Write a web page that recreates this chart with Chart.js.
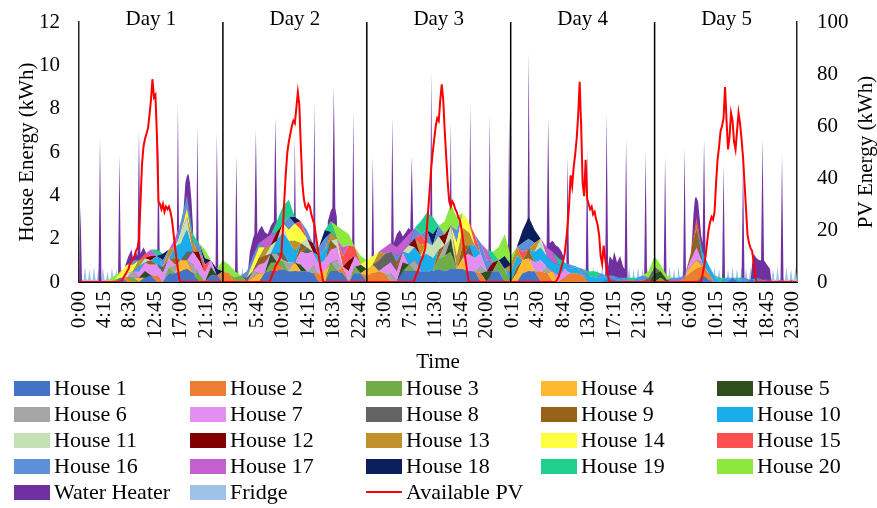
<!DOCTYPE html>
<html>
<head>
<meta charset="utf-8">
<script src="https://cdn.jsdelivr.net/npm/chart.js@4.4.0/dist/chart.umd.min.js"></script>
<style>
  html, body { margin: 0; padding: 0; background: #fff; }
  #wrap { position: relative; width: 877px; height: 508px; overflow: hidden;
          font-family: "Liberation Serif", "Times New Roman", serif; }
  #c { position: absolute; left: 0; top: 0; }
  #legend { position: absolute; left: 0; top: 0; width: 877px; height: 508px; }
  .item { position: absolute; height: 26px; display: flex; align-items: center;
          font-size: 22px; color: #000; white-space: nowrap; }
  .sw { width: 36px; height: 15px; margin-right: 4px; flex: none; }
  .ln { width: 36px; height: 2px; margin-right: 4px; flex: none; }
</style>
</head>
<body>
<div id="wrap">
  <canvas id="c" width="877" height="380"></canvas>
  <div id="legend"></div>
</div>
<script>
// ---- x axis: 15-minute steps over five days (480 steps), a label every 17 steps ----
const quarterTickLabels = ['0:00','4:15','8:30','12:45','17:00','21:15','1:30','5:45','10:00','14:15',
  '18:30','22:45','3:00','7:15','11:30','15:45','20:00','0:15','4:30','8:45','13:00','17:15','21:30',
  '1:45','6:00','10:15','14:30','18:45','23:00'];
const dayLabels = ['Day 1','Day 2','Day 3','Day 4','Day 5'];

// ---- hourly house demand (kWh), 24 values per day, one line per day ----
const house1 = [
  0,0,0,0,0,0,0,0.2,0,0,0,0.2,0.3,0,0,0.4,0.4,0.5,0.6,0.4,0,0,0.3,0.3,
  0,0,0,0,0,0,0,0.4,0.5,0.5,0.6,0.5,0.5,0.5,0.5,0.4,0,0,0.5,0.5,0.4,0,0.4,0.4,
  0,0,0,0,0,0,0.5,0.5,0.5,0.5,0.5,0.5,0.6,0.5,0.6,0.6,0.6,0.5,0.5,0,0,0.5,0.5,0,
  0,0,0.4,0.5,0.5,0,0,0,0,0,0,0,0,0,0,0,0.1,0.1,0,0,0,0,0,0,
  0,0,0,0,0,0,0,0,0.3,0.1,0,0,0,0.2,0,0,0.1,0,0,0.1,0,0,0,0.1];
const house2 = [
  0,0,0,0,0,0,0,0,0.2,0,0,0,0,0.3,0,0,0,0,0,0,0,0,0,0,
  0.5,0.4,0,0,0,0,0,0,0,0.4,0,0,0,0,0,0,0.4,0,0,0,0.3,0,0,0,
  0.3,0.4,0.5,0.4,0,0,0,0,0,0,0,0,0,0,0,0,0,0,0,0.4,0,0,0,0,
  0,0,0,0,0,0.5,0.4,0,0,0.2,0.4,0.4,0.3,0,0,0,0,0,0,0,0,0,0,0,
  0,0,0,0,0,0.2,0.4,0.6,0.4,0.3,0,0,0,0,0,0,0,0,0,0,0,0,0,0];
const house3 = [
  0,0,0,0,0,0,0.1,0,0,0.2,0,0,0,0,0,0.3,0,0,0,0,0.4,0,0,0,
  0,0,0.2,0.3,0,0,0,0,0.4,0,0.4,0,0,0,0,0,0,0,0.4,0,0,0,0.3,0,
  0,0,0,0,0,0,0,0.3,0,0,0,0,0.5,0.7,0.8,0,0,0,0,0,0,0,0.5,0.6,
  0,0,0,0,0,0,0,0,0,0,0,0,0,0,0,0,0,0,0,0,0,0,0,0,
  0,0.2,0,0,0,0,0,0,0,0,0,0,0,0,0,0,0,0,0,0,0,0,0,0];
const house4 = [
  0,0,0,0,0,0,0,0,0,0,0.2,0,0,0,0,0,0,0.5,0.4,0,0,0,0,0,
  0,0,0,0,0,0.2,0.4,0,0,0,0,0,0.4,0,0,0,0,0.5,0,0,0,0,0,0,
  0.3,0.4,0,0,0,0,0,0,0,0,0,0,0,0,0,0,0.5,0,0,0,0,0,0,0,
  0,0.4,0.6,0.6,0,0,0,0.5,0,0,0,0,0,0,0,0,0,0,0,0,0,0,0,0,
  0,0,0,0,0,0,0.3,0.4,0,0,0,0,0,0,0,0,0,0,0,0,0,0,0,0];
const house5 = [
  0,0,0,0,0,0,0,0,0,0,0,0.3,0,0,0,0,0,0,0,0,0,0,0.4,0,
  0,0,0,0,0,0,0,0,0.4,0,0,0,0,0.3,0,0,0,0,0,0,0,0,0,0.4,
  0,0,0,0,0,0,0.4,0,0,0,0,0,0,0,0.6,0,0,0,0,0,0.5,0,0,0,
  0,0,0,0,0,0,0,0,0,0,0,0,0,0,0,0,0,0,0,0,0,0,0,0,
  0.4,0.3,0.1,0,0,0,0,0,0,0,0,0,0,0,0,0,0,0,0,0,0,0,0,0];
const house6 = [
  0,0,0,0,0,0,0,0,0,0.3,0,0,0,0,0,0,0.4,0,0,0.4,0,0,0,0,
  0,0,0,0,0,0.3,0,0,0,0.4,0,0.4,0,0,0,0.4,0,0,0,0.5,0,0,0,0,
  0,0,0,0,0.4,0,0,0,0.5,0,0,0,0,0.5,0,0,0,0,0,0.4,0,0,0,0,
  0,0,0,0,0,0,0.3,0,0,0,0,0,0,0,0,0,0,0,0,0,0,0,0,0,
  0,0,0,0,0,0,0,0,0.2,0,0,0,0,0,0,0,0,0,0,0,0,0,0,0];
const house7 = [
  0,0,0,0,0,0,0,0,0,0,0.3,0.4,0.5,0.5,0.4,0.4,0,0,0,0.6,0.6,0.4,0.3,0,
  0,0,0,0,0,0,0.4,0.5,0,0,0,0,0,0.6,0.8,0.6,0.4,0.5,0.6,0.6,0,0.5,0.5,0,
  0,0,0,0.3,0.5,0.5,0.5,0,0,0,0,0,0,0,0,0,0,0.8,0.6,0.5,0,0,0,0,
  0,0,0,0,0.4,0.5,0,0,0.3,0.4,0,0,0,0,0,0,0,0,0,0,0,0,0,0,
  0,0,0,0,0,0,0.3,0.6,0,0,0,0,0,0,0,0,0,0,0,0,0,0,0,0];
const house8 = [
  0,0,0,0,0,0,0,0,0,0,0,0,0,0,0.3,0,0,0,0.4,0,0,0,0,0,
  0,0,0,0,0.2,0,0,0,0,0,0.4,0,0,0,0.3,0,0,0,0,0,0,0,0,0,
  0,0,0.5,0.6,0.5,0,0,0,0,0,0,0,0,0,0,0,0,0.4,0,0,0,0,0,0,
  0,0,0,0,0,0,0,0,0,0,0,0,0,0,0,0,0,0,0,0,0,0,0,0.2,
  0.3,0,0,0,0,0,0,0,0,0,0,0,0,0,0,0,0,0,0,0,0,0,0,0];
const house9 = [
  0,0,0,0,0,0,0,0,0,0,0,0,0.2,0,0,0,0.3,0,0,0,0,0,0,0,
  0,0,0,0,0,0,0.3,0.3,0,0,0,0,0,0.4,0,0,0,0,0.4,0,0,0,0,0,
  0,0,0,0,0,0.4,0,0,0,0,0,0,0.4,0,0,0,0.6,0,0,0,0,0,0,0,
  0,0.3,0,0.4,0,0,0,0,0,0,0,0,0,0,0,0,0,0,0,0,0,0,0,0,
  0,0,0,0,0,0,0.3,0.8,0,0,0,0,0,0,0,0,0,0,0,0,0,0,0,0];
const house10 = [
  0,0,0,0,0,0,0,0,0,0,0.2,0,0,0.4,0,0,0.5,0.8,1.0,0,0,0,0,0,
  0,0,0,0,0,0,0,0,0,0.6,0.9,1.0,0.5,0,0,0,0.4,0.5,0,0,0,0,0,0,
  0,0,0,0,0,0,0,0.5,0.6,0.7,0.8,0.6,0,0,0,0,0,0,0.6,0,0,0,0,0,
  0.4,0.5,0,0,0.5,0.6,0.5,0.4,0.5,0.3,0.2,0.3,0,0.3,0.2,0.2,0.2,0,0.2,0,0,0.2,0,0,
  0,0,0,0,0,0,0,0,0.5,0.4,0.2,0,0.1,0,0.1,0,0,0.2,0,0,0,0,0,0];
const house11 = [
  0,0,0,0,0,0,0,0,0.2,0,0,0.2,0,0,0,0,0,0.5,0.6,0,0,0,0,0,
  0,0,0,0,0,0,0,0,0.4,0,0.4,0,0,0,0.4,0,0,0,0,0.4,0,0,0,0,
  0,0,0,0,0,0,0,0.4,0,0,0.5,0.6,0.6,0,0.6,0,0,0,0,0,0,0,0,0,
  0,0,0,0,0,0.4,0,0,0,0,0,0,0,0,0,0,0,0,0,0,0,0,0,0,
  0,0,0,0,0,0,0,0,0,0,0,0,0,0,0,0,0,0,0,0,0,0,0,0];
const house12 = [
  0,0,0,0,0,0,0,0,0,0,0,0,0.2,0,0,0,0,0,0,0,0.4,0,0,0,
  0,0,0,0,0,0,0,0,0,0.4,0,0,0,0,0,0.4,0,0,0,0,0,0.5,0,0,
  0,0,0,0,0,0,0,0,0.4,0,0,0,0,0.5,0,0,0,0,0,0,0,0.4,0,0,
  0,0,0,0,0,0,0,0,0,0,0,0,0,0,0,0,0,0,0,0,0,0,0,0,
  0,0,0,0,0,0,0,0,0,0,0,0,0,0,0,0,0,0,0,0,0,0,0,0];
const house13 = [
  0,0,0,0,0,0,0,0,0,0,0.3,0,0,0,0,0.4,0,0,0,0.4,0,0,0,0,
  0,0,0,0,0,0,0,0.4,0,0,0,0,0.5,0,0,0,0,0,0.4,0,0,0,0,0,
  0,0,0.4,0,0,0,0,0,0,0.5,0,0,0,0,0,0.6,0.8,0.6,0,0,0,0,0,0,
  0.4,0.4,0,0,0.4,0,0,0,0,0,0,0,0,0,0,0,0,0,0,0,0,0,0,0,
  0,0,0,0,0,0,0,0.3,0,0,0,0,0,0,0,0,0,0,0,0,0,0,0,0];
const house14 = [
  0,0,0,0,0,0,0,0.3,0.4,0.3,0,0,0,0,0,0,0,0,0.4,0,0,0,0,0,
  0,0,0,0,0,0.4,0.5,0,0,0,0,0.5,0.8,0.6,0,0,0,0,0,0,0,0,0,0,
  0.4,0.4,0,0,0,0,0,0,0,0,0,0,0,0,0,0.6,0.7,0.5,0,0,0,0,0,0,
  0,0,0,0,0,0,0,0,0,0,0,0,0,0,0,0,0,0,0,0,0,0,0,0,
  0,0,0,0,0,0,0,0,0,0,0,0,0,0,0,0,0,0,0,0,0,0,0,0];
const house15 = [
  0,0,0,0,0,0,0,0,0,0,0,0.2,0,0,0,0,0,0,0,0,0,0.4,0,0,
  0,0,0,0,0,0,0,0,0,0,0,0,0,0.4,0,0,0,0,0,0,0.5,0.7,0.4,0,
  0,0,0,0,0,0,0,0,0,0.5,0,0,0,0,0,0,0,0,0.5,0,0,0,0,0,
  0,0,0.4,0,0,0,0,0,0,0,0,0,0,0,0,0,0,0,0,0,0,0,0,0,
  0,0,0,0,0,0,0,0.3,0,0,0,0,0,0,0,0,0,0,0,0,0,0,0,0];
const house16 = [
  0,0,0,0,0,0,0,0,0,0.2,0,0,0,0,0.3,0,0,0.5,0.6,0,0.4,0,0,0,
  0,0,0,0,0.3,0.3,0.2,0,0,0,0,0.6,0,0,0.4,0,0.4,0.5,0,0,0,0,0,0,
  0,0,0,0,0,0.3,0,0,0.5,0,0.6,0,0.5,0,0,0.6,0,0,0,0.5,0.5,0,0,0,
  0,0,0.4,0.5,0,0,0,0,0,0,0.2,0,0.3,0,0,0.2,0,0.2,0,0.2,0,0,0.3,0,
  0,0,0,0.2,0.2,0.1,0,0,0,0,0.1,0,0.1,0,0,0.2,0,0,0.1,0,0,0.1,0,0];
const house17 = [
  0,0,0,0,0,0,0,0,0,0,0,0,0.3,0,0,0,0.4,0,0,0,0,0,0,0,
  0,0,0,0,0,0,0,0.4,0.5,0,0,0,0,0,0,0,0,0,0,0,0.4,0,0,0,
  0,0,0,0.3,0.4,0.4,0.5,0.5,0,0,0,0,0,0,0,0,0,0,0,0,0.5,0,0,0,
  0,0,0,0,0,0,0.4,0.5,0,0,0,0,0,0,0,0,0,0,0,0,0,0,0,0,
  0,0,0,0,0,0,0,0,0,0,0,0,0,0,0,0,0,0,0,0,0,0,0,0];
const house18 = [
  0,0,0,0,0,0,0,0,0,0,0,0,0,0,0.3,0,0,0,0,0,0,0.3,0,0.3,
  0,0,0,0,0,0,0,0,0,0,0,0,0.3,0,0,0,0,0.4,0,0,0,0,0,0,
  0,0,0,0,0,0,0,0,0,0,0,0.5,0,0,0,0,0,0,0,0,0,0,0,0.6,
  0,0,0.6,1.0,0.6,0,0,0,0,0,0,0,0,0,0,0,0,0,0,0,0,0,0,0,
  0,0,0,0,0,0,0,0,0,0,0,0,0,0,0,0,0,0,0,0,0,0,0,0];
const house19 = [
  0,0,0,0,0,0,0,0,0,0,0,0,0,0.3,0,0,0,0,0,0.4,0,0,0,0,
  0,0,0,0,0,0,0,0,0,0.5,0.8,0.8,0,0,0,0,0,0,0.5,0,0,0,0,0,
  0,0,0,0,0,0,0,0,0,0.6,0.8,0.8,0,0,0,0,0,0,0,0,0,0.5,0,0,
  0,0,0,0,0,0,0,0,0.3,0,0,0,0,0.2,0.3,0,0,0,0,0,0.2,0,0,0,
  0,0,0,0,0,0,0,0,0,0,0,0.2,0,0,0.1,0,0,0,0,0,0,0,0,0];
const house20 = [
  0,0,0,0,0,0.1,0.2,0,0,0,0,0,0,0,0,0,0,0,0,0,0,0.4,0,0,
  0.5,0.4,0.3,0,0,0,0,0,0,0,0,0,0,0,0,0,0,0,0,0.6,0.8,0.5,0,0.4,
  0,0,0,0,0,0,0,0,0,0,0,0,0,0.6,1.0,0.6,0,0,0,0,0,0,0.6,1.0,
  0.4,0,0,0,0,0,0,0,0,0,0,0,0,0,0,0,0,0,0,0,0,0,0,0.3,
  0.5,0.3,0.2,0,0,0,0,0,0,0,0,0,0,0,0,0,0,0,0,0,0,0,0,0];

// ---- water heater (kWh) as [15-minute step, value] readings ----
const waterHeater = [
  [0,0],[1,3.5],[2,0],[13,0],[14,6.7],[15,0],[26,0],[27,5.9],[28,0],
  [30,0],[31,0.8],[33,1.2],[35,1.5],[36,1.1],[38,1.4],[39,1.2],[40,7.0],[41,1.3],[43,1.6],[45,1.3],
  [47,1.2],[48,0.8],[49,0],[52,0],[53,6.6],[54,0],[65,0],[66,8.2],[67,0],
  [68,0],[69,2.5],[70,3.6],[71,4.6],[72,4.9],[73,5.0],[74,4.6],[75,3.8],[76,2.6],[77,0],
  [78,0],[79,7.2],[80,0],[91,0],[92,6.9],[93,0],
  [104,0],[105,5.9],[106,0],[112,0],[114,1.4],[116,2.0],[117,2.2],[118,7.0],[119,2.2],[120,2.4],
  [122,2.6],[124,2.3],[126,2.2],[128,2.6],[130,2.8],[131,7.6],[132,2.7],[134,2.2],[135,0],
  [143,0],[144,6.7],[145,0],[156,0],[157,8.3],[158,0],
  [165,0],[166,2.8],[168,3.3],[169,3.4],[170,9.0],[171,3.4],[172,3.0],[173,0],[182,0],[183,7.9],[184,0],
  [195,0],[196,5.8],[197,0],[208,0],[209,7.6],[210,1.8],[212,2.2],[214,2.4],[216,2.1],[218,2.3],
  [220,2.5],[221,2.4],[222,5.8],[223,2.4],[225,2.2],[226,0],[234,0],[235,9.7],[236,0],
  [247,0],[248,7.4],[249,0],[260,0],[261,8.2],[262,0],[273,0],[274,7.7],[275,0],[286,0],[287,7.9],[288,0],
  [299,0],[300,10.6],[301,0],[311,0],[312,1.8],[313,7.6],[314,1.8],[316,1.9],[318,1.7],[320,1.6],
  [322,1.4],[323,1.2],[324,0],[325,0],[326,5.8],[327,0],[338,0],[339,6.2],[340,0],[351,0],[352,7.8],
  [353,0.7],[354,1.2],[356,1.0],[357,1.4],[359,0.9],[361,1.2],[363,0.7],[364,0.6],[365,6.6],[366,0],
  [377,0],[378,6.0],[379,0],
  [390,0],[391,5.8],[392,0],[403,0],[404,6.2],[405,0],[408,1.0],[409,2.0],[410,3.2],[411,3.9],
  [412,3.9],[413,3.7],[414,3.0],[415,2.2],[416,1.8],[417,6.6],[418,1.2],[419,0],[429,0],[430,5.4],
  [431,0],[442,0],[443,5.6],[444,0],[448,0],[449,0.8],[450,1.3],[452,1.1],[454,1.0],[455,1.0],
  [456,6.6],[457,1.0],[459,0.8],[461,0.6],[462,0],[468,0],[469,5.9],[470,0],[479,0]
];

// ---- fridge (kWh), one value per 15 minutes, 96 per day ----
const fridgeDay1 = [
  0.1,0.6,0.1,0.1,0.7,0.1,0.1,0.6,0.1,0.1,0.7,0.1, 0.1,0.6,0.1,0.1,0.7,0.1,0.1,0.5,0.1,0.1,0.7,0.1,
  0.1,0.6,0.1,0.1,0.8,0.1,0.1,0.6,0.1,0.1,0.7,0.1, 0.1,0.6,0.1,0.1,0.7,0.1,0.1,0.6,0.1,0.1,0.7,0.1,
  0.1,0.6,0.1,0.1,0.7,0.1,0.1,0.6,0.1,0.1,0.8,0.1, 0.1,0.6,0.1,0.1,0.7,0.1,0.1,0.6,0.1,0.1,0.7,0.1,
  0.1,0.6,0.1,0.1,0.7,0.1,0.1,0.6,0.1,0.1,0.7,0.1, 0.1,0.6,0.1,0.1,0.7,0.1,0.1,0.6,0.1,0.1,0.7,0.1];
const fridgeDay2 = [
  0.1,0.7,0.1,0.1,0.6,0.1,0.1,0.7,0.1,0.1,0.6,0.1, 0.1,0.7,0.1,0.1,0.6,0.1,0.1,0.8,0.1,0.1,0.6,0.1,
  0.1,0.7,0.1,0.1,0.6,0.1,0.1,0.7,0.1,0.1,0.6,0.1, 0.1,0.7,0.1,0.1,0.6,0.1,0.1,0.7,0.1,0.1,0.6,0.1,
  0.1,0.7,0.1,0.1,0.6,0.1,0.1,0.7,0.1,0.1,0.6,0.1, 0.1,0.7,0.1,0.1,0.6,0.1,0.1,0.7,0.1,0.1,0.6,0.1,
  0.1,0.7,0.1,0.1,0.6,0.1,0.1,0.7,0.1,0.1,0.6,0.1, 0.1,0.7,0.1,0.1,0.6,0.1,0.1,0.7,0.1,0.1,0.6,0.1];
const fridgeDay3 = [
  0.1,0.6,0.1,0.1,0.7,0.1,0.1,0.6,0.1,0.1,0.7,0.1, 0.1,0.6,0.1,0.1,0.7,0.1,0.1,0.6,0.1,0.1,0.7,0.1,
  0.1,0.6,0.1,0.1,0.7,0.1,0.1,0.6,0.1,0.1,0.7,0.1, 0.1,0.6,0.1,0.1,0.7,0.1,0.1,0.6,0.1,0.1,0.7,0.1,
  0.1,0.6,0.1,0.1,0.7,0.1,0.1,0.6,0.1,0.1,0.7,0.1, 0.1,0.6,0.1,0.1,0.7,0.1,0.1,0.6,0.1,0.1,0.7,0.1,
  0.1,0.6,0.1,0.1,0.7,0.1,0.1,0.6,0.1,0.1,0.7,0.1, 0.1,0.6,0.1,0.1,0.7,0.1,0.1,0.6,0.1,0.1,0.7,0.1];
const fridgeDay4 = [
  0.1,0.7,0.1,0.1,0.6,0.1,0.1,0.7,0.1,0.1,0.6,0.1, 0.1,0.7,0.1,0.1,0.6,0.1,0.1,0.7,0.1,0.1,0.6,0.1,
  0.1,0.7,0.1,0.1,0.6,0.1,0.1,0.7,0.1,0.1,0.6,0.1, 0.1,0.7,0.1,0.1,0.6,0.1,0.1,0.7,0.1,0.1,0.6,0.1,
  0.1,0.7,0.1,0.1,0.6,0.1,0.1,0.7,0.1,0.1,0.6,0.1, 0.1,0.7,0.1,0.1,0.6,0.1,0.1,0.7,0.1,0.1,0.6,0.1,
  0.1,0.7,0.1,0.1,0.6,0.1,0.1,0.7,0.1,0.1,0.6,0.1, 0.1,0.7,0.1,0.1,0.6,0.1,0.1,0.7,0.1,0.1,0.6,0.1];
const fridgeDay5 = [
  0.1,0.6,0.1,0.1,0.7,0.1,0.1,0.6,0.1,0.1,0.7,0.1, 0.1,0.6,0.1,0.1,0.7,0.1,0.1,0.6,0.1,0.1,0.7,0.1,
  0.1,0.6,0.1,0.1,0.7,0.1,0.1,0.6,0.1,0.1,0.7,0.1, 0.1,0.6,0.1,0.1,0.7,0.1,0.1,0.6,0.1,0.1,0.7,0.1,
  0.1,0.6,0.1,0.1,0.7,0.1,0.1,0.6,0.1,0.1,0.7,0.1, 0.1,0.6,0.1,0.1,0.7,0.1,0.1,0.6,0.1,0.1,0.7,0.1,
  0.1,0.6,0.1,0.1,0.7,0.1,0.1,0.6,0.1,0.1,0.7,0.1, 0.1,0.6,0.1,0.1,0.7,0.1,0.1,0.6,0.1,0.1,0.7,0.1];

// ---- available PV (kWh), 15-minute values from 6:00 to 18:45 each day (zero otherwise) ----
const pvDay1 = [0,0,0,0,0,1,2,3,4,5,7,8,9,10,12,13,16,30,45,52,55,57,59,64,70,78,71,72,56,31,30,28,30,27,29,28,29,27,24,19,14,9,5,1,0,0,0,0,0,0,0,0];
const pvDay2 = [0,0,0,0,0,0,0,0,1,3,4,6,7,8,9,11,20,32,42,50,54,57,60,62,61,67,73,68,52,38,32,29,28,30,29,26,24,22,18,14,10,6,3,0,0,0,0,0,0,0,0,0];
const pvDay3 = [0,0,0,0,0,0,0,0,1,3,4,6,8,9,11,13,20,28,36,44,50,55,60,63,62,70,76,70,58,48,38,31,29,31,30,28,27,25,24,21,17,12,8,4,0,0,0,0,0,0,0,0];
const pvDay4 = [0,0,0,0,0,0,0,1,2,4,6,8,11,16,22,30,41,37,44,49,55,64,77,60,38,33,47,32,30,28,29,26,27,24,22,18,10,7,14,9,5,2,0,0,0,0,0,0,0,0,0,0];
const pvDay5 = [0,0,0,0,0,0,0,0,3,6,10,15,20,23,25,24,27,38,47,52,58,60,63,75,62,51,56,65,62,54,51,58,65,61,55,48,38,28,18,15,13,12,8,3,0,0,0,0,0,0,0,0];

// ---- assembly ----
const FONT = '"Liberation Serif", "Times New Roman", serif';
const STEPS_PER_DAY = 96, TICK_STEP = 17, PV_FROM = 24;
const houses = [house1,house2,house3,house4,house5,house6,house7,house8,house9,house10,
  house11,house12,house13,house14,house15,house16,house17,house18,house19,house20];
const houseColors = ['#4472C4','#ED7D31','#70AD47','#FFB92E','#2E4E1E','#A5A5A5','#E38FF2','#636363',
  '#946317','#19AEEB','#C5E0B4','#800000','#C0902A','#FFFF3F','#FF5050','#5E8FD8','#C45FCF','#0B1F5C',
  '#20CF8D','#8CE83E'];
const fridge = [].concat(fridgeDay1, fridgeDay2, fridgeDay3, fridgeDay4, fridgeDay5);
const pvDays = [pvDay1, pvDay2, pvDay3, pvDay4, pvDay5];
const pvPoints = [];
pvDays.forEach((day, d) => {
  for (let q = 0; q < STEPS_PER_DAY; q++) {
    const k = q - PV_FROM;
    pvPoints.push({ x: d * STEPS_PER_DAY + q, y: (k >= 0 && k < day.length) ? day[k] : 0 });
  }
});

const areaBase = { borderColor: 'transparent', borderWidth: 0, pointRadius: 0, pointHoverRadius: 0, tension: 0, yAxisID: 'y' };
const datasets = houses.map((vals, i) => Object.assign({}, areaBase, {
  label: 'House ' + (i + 1),
  data: vals.map((v, h) => ({ x: h * 4, y: v })),
  backgroundColor: houseColors[i],
  fill: 'stack', stack: 'houses', order: 2
}));
datasets.push(Object.assign({}, areaBase, {
  label: 'Water Heater', data: waterHeater.map(([x, y]) => ({ x, y })),
  backgroundColor: '#7030A0', fill: 'origin', stack: 'heater', order: 3
}));
datasets.push(Object.assign({}, areaBase, {
  label: 'Fridge', data: fridge.map((v, i) => ({ x: i, y: v })),
  backgroundColor: '#9DC3E6', fill: 'origin', stack: 'fridge', order: 4
}));
datasets.push({
  label: 'Available PV', data: pvPoints, yAxisID: 'y1', borderColor: '#FF0000', backgroundColor: '#FF0000',
  borderWidth: 2, pointRadius: 0, fill: false, tension: 0, order: 0
});

// day separators, day captions and the right-hand axis title
const dayMarks = {
  id: 'dayMarks',
  afterDatasetsDraw(chart) {
    const { ctx, chartArea, scales: { x } } = chart;
    ctx.save();
    ctx.strokeStyle = '#000';
    ctx.lineWidth = 1.5;
    for (let d = 1; d < dayLabels.length; d++) {
      const px = x.getPixelForValue(d * STEPS_PER_DAY);
      ctx.beginPath();
      ctx.moveTo(px, chartArea.top);
      ctx.lineTo(px, chartArea.bottom);
      ctx.stroke();
    }
    ctx.fillStyle = '#000';
    ctx.font = '21px ' + FONT;
    ctx.textAlign = 'center';
    ctx.textBaseline = 'middle';
    dayLabels.forEach((t, d) => ctx.fillText(t, x.getPixelForValue(d * STEPS_PER_DAY + STEPS_PER_DAY / 2), chartArea.top - 3));
    ctx.translate(chart.width - 11, (chartArea.top + chartArea.bottom) / 2);
    ctx.rotate(-Math.PI / 2);
    ctx.fillText('PV Energy (kWh)', 0, 0);
    ctx.restore();
  }
};

const tickFont = { family: FONT, size: 21 };
// tick marks stay hidden (grid.display false); their length only sets the label gap
const chart = new Chart(document.getElementById('c'), {
  type: 'line',
  data: { datasets },
  plugins: [dayMarks],
  options: {
    responsive: false, animation: false, devicePixelRatio: 1,
    layout: { autoPadding: false, padding: { top: 22, left: 0, right: 0, bottom: 0 } },
    plugins: { legend: { display: false }, tooltip: { enabled: false } },
    interaction: { mode: 'nearest', intersect: true },
    scales: {
      x: {
        type: 'linear', min: 0, max: 479,
        grid: { display: false, drawTicks: false },
        border: { display: true, color: '#000', width: 1 },
        afterBuildTicks: (axis) => { axis.ticks = quarterTickLabels.map((_, i) => ({ value: i * TICK_STEP })); },
        ticks: { autoSkip: false, minRotation: 90, maxRotation: 90, padding: 9, color: '#000', font: tickFont,
                 callback: (v, i) => quarterTickLabels[i] },
        title: { display: true, text: 'Time', color: '#000', font: tickFont, padding: { top: 0, bottom: 5 } },
        afterFit: (s) => { s.height = 98; }
      },
      y: {
        position: 'left', stacked: true, min: 0, max: 12,
        grid: { display: false, drawTicks: true, tickLength: 19 },
        border: { display: true, color: '#222', width: 1.5 },
        ticks: { stepSize: 2, padding: 0, color: '#000', font: tickFont },
        title: { display: true, text: 'House Energy (kWh)', color: '#000', font: tickFont, padding: { top: 15, bottom: 0 } },
        afterFit: (s) => { s.width = 79; }
      },
      y1: {
        position: 'right', min: 0, max: 100,
        grid: { display: false, drawTicks: true, tickLength: 20 },
        border: { display: true, color: '#222', width: 1.5 },
        ticks: { stepSize: 20, padding: 0, color: '#000', font: tickFont },
        title: { display: false },
        afterFit: (s) => { s.width = 80; }
      }
    }
  }
});

// legend grid below the plot, five entries per row
const colX = [14, 190, 366, 541, 717];
const rowTop = [375, 401, 427, 453, 479];
const legendEl = document.getElementById('legend');
chart.data.datasets.forEach((ds, i) => {
  const item = document.createElement('div');
  item.className = 'item';
  item.style.left = colX[i % 5] + 'px';
  item.style.top = rowTop[Math.floor(i / 5)] + 'px';
  const sw = document.createElement('span');
  sw.className = ds.yAxisID === 'y1' ? 'ln' : 'sw';
  sw.style.background = ds.yAxisID === 'y1' ? ds.borderColor : ds.backgroundColor;
  const tx = document.createElement('span');
  tx.textContent = ds.label;
  item.appendChild(sw);
  item.appendChild(tx);
  legendEl.appendChild(item);
});
</script>
</body>
</html>
